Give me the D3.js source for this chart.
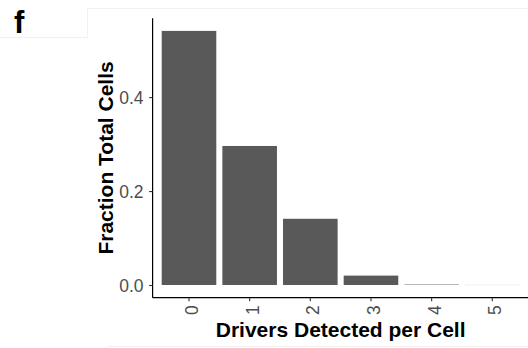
<!DOCTYPE html>
<html>
<head>
<meta charset="utf-8">
<script src="https://cdn.jsdelivr.net/npm/d3@7/dist/d3.min.js"></script>
<style>
  html, body { margin: 0; padding: 0; background: #fff; }
  svg { display: block; font-family: "Liberation Sans", Arial, sans-serif; }
</style>
</head>
<body>
<svg id="chart" width="528" height="348"></svg>
<script>
// Number of driver genes detected per cell, as a fraction of all cells
const categories = ["0", "1", "2", "3", "4", "5"];
const fractions = [0.541, 0.296, 0.141, 0.020, 0.002, 0.0005];
const yTicks = [0.0, 0.2, 0.4];
const yTickLabels = ["0.0", "0.2", "0.4"];

const svg = d3.select("#chart");

// Panel edges
const panelLeft = 152.6, panelRight = 528.7, panelTop = 18.2, panelBottom = 297.7;

// Light frame lines of the figure panel
const frame = svg.append("g").attr("stroke", "#f1f1f1").attr("stroke-width", 1);
frame.append("line").attr("x1", 87).attr("x2", 528).attr("y1", 8.5).attr("y2", 8.5);
frame.append("line").attr("x1", 87.5).attr("x2", 87.5).attr("y1", 8).attr("y2", 37.5);
frame.append("line").attr("x1", 0).attr("x2", 87.5).attr("y1", 37.5).attr("y2", 37.5);
frame.append("line").attr("x1", 107).attr("x2", 528).attr("y1", 346.5).attr("y2", 346.5);

// Panel letter
svg.append("text")
  .attr("x", 14).attr("y", 33)
  .attr("font-size", 31).attr("font-weight", "bold").attr("fill", "#000")
  .text("f");

// Scales: discrete x with 0.6-unit expansion, y with 5% expansion
const x = d3.scaleBand()
  .domain(categories)
  .range([panelLeft, panelRight])
  .paddingInner(0.1)
  .paddingOuter(0.15);

const yMax = d3.max(fractions);
const pad = yMax * 0.05;
const y = d3.scaleLinear()
  .domain([-pad, yMax + pad])
  .range([panelBottom, panelTop]);

// Bars
svg.append("g")
  .selectAll("rect")
  .data(fractions)
  .join("rect")
  .attr("x", (d, i) => x(categories[i]))
  .attr("width", x.bandwidth())
  .attr("y", d => y(d))
  .attr("height", d => Math.max(0.6, y(0) - y(d)))
  .attr("fill", "#595959")
  .attr("fill-opacity", d => d < 0.001 ? 0.15 : (d < 0.005 ? 0.45 : 1));

// Y axis
const yAxis = svg.append("g")
  .attr("transform", `translate(${panelLeft},0)`)
  .call(d3.axisLeft(y).tickValues(yTicks)
    .tickFormat((d, i) => yTickLabels[i])
    .tickSize(3.5).tickPadding(5.5));
yAxis.select(".domain").attr("stroke", "#000").attr("stroke-width", 1.2)
  .attr("d", `M0,${panelTop}V${panelBottom}`);
yAxis.selectAll(".tick line").attr("stroke", "#333").attr("stroke-width", 1.1);
yAxis.selectAll(".tick text")
  .attr("font-size", 17.5).attr("fill", "#4d4d4d")
  .attr("font-family", "Liberation Sans, Arial, sans-serif")
  .attr("dy", "0.36em");

// X axis
const xAxis = svg.append("g")
  .attr("transform", `translate(0,${panelBottom})`)
  .call(d3.axisBottom(x).tickSize(3.5).tickFormat(""));
xAxis.select(".domain").attr("stroke", "#000").attr("stroke-width", 1.2)
  .attr("d", `M${panelLeft},0H${panelRight}`);
xAxis.selectAll(".tick line").attr("stroke", "#333").attr("stroke-width", 1.1);

// Rotated x tick labels, reading upward
svg.append("g")
  .selectAll("text")
  .data(categories)
  .join("text")
  .attr("transform", d => `translate(${x(d) + x.bandwidth() / 2 + 9},${panelBottom + 7.5}) rotate(-90)`)
  .attr("text-anchor", "end")
  .attr("font-size", 17.5)
  .attr("fill", "#4d4d4d")
  .text(d => d);

// Axis titles
svg.append("text")
  .attr("x", (panelLeft + panelRight) / 2).attr("y", 336.5)
  .attr("text-anchor", "middle")
  .attr("font-size", 21).attr("font-weight", "bold").attr("fill", "#000")
  .text("Drivers Detected per Cell");

svg.append("text")
  .attr("transform", `translate(112.5,${(panelTop + panelBottom) / 2}) rotate(-90)`)
  .attr("text-anchor", "middle")
  .attr("font-size", 21).attr("font-weight", "bold").attr("fill", "#000")
  .text("Fraction Total Cells");
</script>
</body>
</html>
